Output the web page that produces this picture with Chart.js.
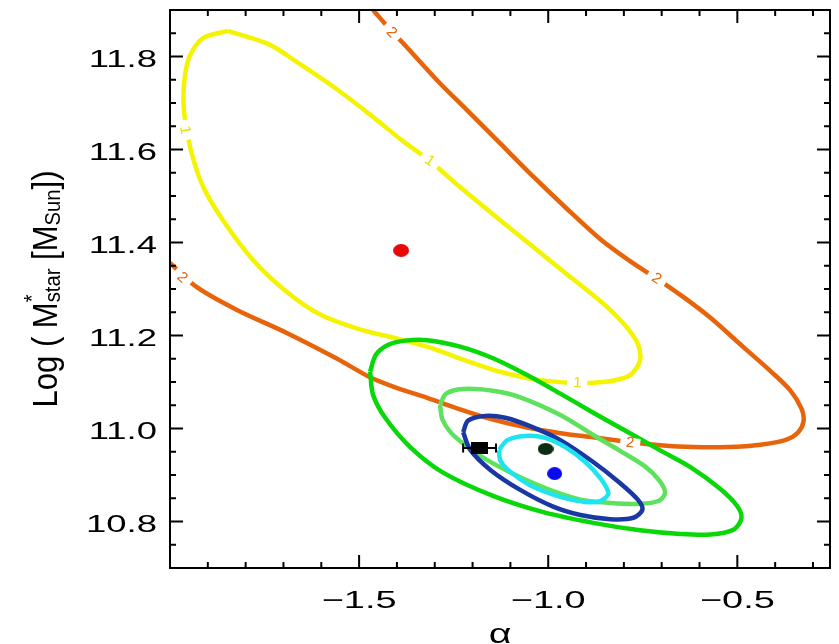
<!DOCTYPE html>
<html>
<head>
<meta charset="utf-8">
<script src="https://cdn.jsdelivr.net/npm/chart.js@4.4.1/dist/chart.umd.min.js"></script>
<style>
html, body { margin: 0; padding: 0; background: #fff; }
#wrap { position: relative; width: 839px; height: 644px; }
</style>
</head>
<body>
<div id="wrap"><canvas id="myChart"></canvas></div>
<script>
// contour points, [alpha, log Mstar]
var yellowContour = [[-1.847, 11.855], [-1.738, 11.826], [-1.659, 11.785], [-1.558, 11.729], [-1.471, 11.675],
    [-1.384, 11.618], [-1.312, 11.575], [-1.246, 11.528], [-1.127, 11.448], [-0.968, 11.343], [-0.836, 11.255],
    [-0.768, 11.190], [-0.757, 11.147], [-0.789, 11.112], [-0.889, 11.098], [-1.021, 11.104], [-1.127, 11.122],
    [-1.214, 11.145], [-1.312, 11.174], [-1.399, 11.193], [-1.505, 11.215], [-1.603, 11.245], [-1.690, 11.293],
    [-1.780, 11.362], [-1.860, 11.448], [-1.913, 11.521], [-1.945, 11.599], [-1.962, 11.674], [-1.963, 11.741],
    [-1.948, 11.801], [-1.912, 11.840]];
var orangeContour = [[-1.463, 11.900], [-1.413, 11.853], [-1.384, 11.829], [-1.294, 11.749], [-1.214, 11.684],
    [-1.127, 11.613], [-1.040, 11.542], [-0.950, 11.472], [-0.862, 11.407], [-0.775, 11.355], [-0.712, 11.322],
    [-0.643, 11.283], [-0.571, 11.238], [-0.484, 11.175], [-0.413, 11.124], [-0.360, 11.082], [-0.330, 11.042],
    [-0.325, 11.015], [-0.339, 10.992], [-0.370, 10.976], [-0.439, 10.965], [-0.526, 10.960], [-0.616, 10.960],
    [-0.704, 10.964], [-0.775, 10.970], [-0.881, 10.981], [-0.968, 10.990], [-1.056, 11.002], [-1.146, 11.019],
    [-1.233, 11.041], [-1.320, 11.066], [-1.410, 11.090], [-1.471, 11.110], [-1.558, 11.150], [-1.690, 11.205],
    [-1.823, 11.255], [-1.929, 11.304], [-2.000, 11.356]];
var greenContour = [[-1.471, 11.122], [-1.456, 11.158], [-1.423, 11.180], [-1.378, 11.189], [-1.320, 11.190],
    [-1.233, 11.176], [-1.146, 11.151], [-1.056, 11.115], [-0.968, 11.075], [-0.881, 11.034], [-0.791, 10.993],
    [-0.704, 10.953], [-0.624, 10.917], [-0.548, 10.872], [-0.502, 10.835], [-0.489, 10.808], [-0.509, 10.783],
    [-0.571, 10.772], [-0.650, 10.773], [-0.757, 10.781], [-0.881, 10.797], [-1.013, 10.820], [-1.146, 10.855],
    [-1.278, 10.905], [-1.365, 10.960], [-1.431, 11.023], [-1.463, 11.072]];
var lightGreenContour = [[-1.286, 11.051], [-1.270, 11.075], [-1.225, 11.085], [-1.146, 11.081], [-1.074, 11.067],
    [-0.968, 11.029], [-0.881, 10.986], [-0.810, 10.952], [-0.745, 10.919], [-0.706, 10.888], [-0.691, 10.861],
    [-0.709, 10.844], [-0.757, 10.838], [-0.836, 10.840], [-0.915, 10.847], [-1.029, 10.879], [-1.161, 10.932],
    [-1.246, 10.982], [-1.279, 11.018]];
var navyContour = [[-1.225, 10.992], [-1.212, 11.017], [-1.167, 11.027], [-1.114, 11.023], [-1.048, 11.005],
    [-0.968, 10.975], [-0.881, 10.928], [-0.812, 10.884], [-0.763, 10.847], [-0.751, 10.825], [-0.775, 10.808],
    [-0.836, 10.805], [-0.915, 10.814], [-0.987, 10.832], [-1.074, 10.868], [-1.153, 10.911], [-1.206, 10.954]];
var cyanContour = [[-1.130, 10.954], [-1.108, 10.975], [-1.061, 10.984], [-1.008, 10.980], [-0.955, 10.960],
    [-0.902, 10.928], [-0.863, 10.894], [-0.841, 10.861], [-0.862, 10.844], [-0.902, 10.842], [-0.968, 10.853],
    [-1.048, 10.878], [-1.106, 10.911], [-1.127, 10.932]];

// contour level labels
var yellowLabelAt = [[-1.958, 11.642], [-1.312, 11.577], [-0.923, 11.100]];
var orangeLabelAt = [[-1.413, 11.853], [-0.712, 11.324], [-0.783, 10.971], [-1.966, 11.326]];

// best-fit points
var redPoint = [-1.389, 11.383];
var darkPoint = [-1.007, 10.956];
var bluePoint = [-0.983, 10.903];
var squarePoint = [-1.181, 10.958];
var squareErr = [-1.225, -1.138];

// axes
var xMin = -2.0, xMax = -0.255, yMin = 10.7, yMax = 11.9;
var xTicks = [-1.5, -1.0, -0.5];
var xTickLabels = ['\u22121.5', '\u22121.0', '\u22120.5'];
var xMinorStep = 0.1;
var yTicks = [10.8, 11.0, 11.2, 11.4, 11.6, 11.8];
var yTickLabels = ['10.8', '11.0', '11.2', '11.4', '11.6', '11.8'];
var yMinorStep = 0.05;

function toPts(arr, closed) {
    var out = arr.map(function (p) { return { x: p[0], y: p[1] }; });
    if (closed) out.push({ x: arr[0][0], y: arr[0][1] });
    return out;
}

function marker(w, h, color, shape) {
    var c = document.createElement('canvas');
    c.width = w;
    c.height = h;
    var g = c.getContext('2d');
    g.fillStyle = color;
    if (shape === 'rect') {
        g.fillRect(0, 0, w, h);
    } else {
        g.beginPath();
        g.ellipse(w / 2, h / 2, w / 2, h / 2, 0, 0, Math.PI * 2);
        g.fill();
    }
    return c;
}

function contourSet(data, color) {
    return {
        data: data, showLine: true, borderColor: color, borderWidth: 4.5,
        pointRadius: 0, tension: 0.3, fill: false
    };
}

function pointSet(p, style) {
    return { data: [{ x: p[0], y: p[1] }], pointStyle: style, pointRadius: 8, showLine: false };
}

var FONT = '"Liberation Sans", Arial, sans-serif';

function drawLabels(chart, curve, closed, labels, text, color) {
    var xs = chart.scales.x, ys = chart.scales.y, ctx = chart.ctx;
    var pts = curve.slice();
    if (closed) pts.push(curve[0]);
    var pix = pts.map(function (p) { return [xs.getPixelForValue(p[0]), ys.getPixelForValue(p[1])]; });
    labels.forEach(function (l) {
        var px = xs.getPixelForValue(l[0]), py = ys.getPixelForValue(l[1]);
        var best = 1e12, ang = 0;
        for (var i = 0; i < pix.length - 1; i++) {
            var mx = (pix[i][0] + pix[i + 1][0]) / 2, my = (pix[i][1] + pix[i + 1][1]) / 2;
            var d = (mx - px) * (mx - px) + (my - py) * (my - py);
            if (d < best) {
                best = d;
                ang = Math.atan2(pix[i + 1][1] - pix[i][1], pix[i + 1][0] - pix[i][0]);
            }
        }
        if (ang > Math.PI / 2) ang -= Math.PI;
        if (ang < -Math.PI / 2) ang += Math.PI;
        ctx.save();
        ctx.translate(px, py);
        ctx.rotate(ang);
        ctx.fillStyle = '#fff';
        ctx.fillRect(-10, -4, 20, 8);
        ctx.fillStyle = color;
        ctx.font = '15px ' + FONT;
        ctx.textAlign = 'center';
        ctx.textBaseline = 'middle';
        ctx.fillText(text, 0, 1);
        ctx.restore();
    });
}

function stretchedText(ctx, text, x, y, sx, align) {
    ctx.save();
    ctx.translate(x, y);
    ctx.scale(sx, 1);
    ctx.textAlign = align;
    ctx.textBaseline = 'alphabetic';
    ctx.fillText(text, 0, 0);
    ctx.restore();
}

var axesPlugin = {
    id: 'axesPlugin',
    afterDatasetsDraw: function (chart) {
        drawLabels(chart, orangeContour, false, orangeLabelAt, '2', '#e0640c');
        drawLabels(chart, yellowContour, true, yellowLabelAt, '1', '#e6e000');
    },
    afterDraw: function (chart) {
        var ctx = chart.ctx, a = chart.chartArea;
        var xs = chart.scales.x, ys = chart.scales.y;
        ctx.save();
        ctx.strokeStyle = '#000';
        ctx.lineWidth = 2;
        ctx.strokeRect(a.left, a.top, a.right - a.left, a.bottom - a.top);
        ctx.beginPath();
        var k, v, p;
        for (k = Math.ceil(xMin / xMinorStep + 1e-6); k * xMinorStep < xMax - 1e-6; k++) {
            v = k * xMinorStep;
            p = xs.getPixelForValue(v);
            var len = xTicks.some(function (t) { return Math.abs(t - v) < 1e-6; }) ? 13 : 6;
            ctx.moveTo(p, a.bottom); ctx.lineTo(p, a.bottom - len);
            ctx.moveTo(p, a.top); ctx.lineTo(p, a.top + len);
        }
        for (k = Math.ceil(yMin / yMinorStep + 1e-6); k * yMinorStep < yMax - 1e-6; k++) {
            v = k * yMinorStep;
            p = ys.getPixelForValue(v);
            var ylen = yTicks.some(function (t) { return Math.abs(t - v) < 1e-6; }) ? 13 : 6;
            ctx.moveTo(a.left, p); ctx.lineTo(a.left + ylen, p);
            ctx.moveTo(a.right, p); ctx.lineTo(a.right - ylen, p);
        }
        ctx.stroke();

        ctx.fillStyle = '#000';
        ctx.font = '24px ' + FONT;
        xTicks.forEach(function (t, i) {
            stretchedText(ctx, xTickLabels[i], xs.getPixelForValue(t), a.bottom + 40, 1.58, 'center');
        });
        yTicks.forEach(function (t, i) {
            stretchedText(ctx, yTickLabels[i], a.left - 13, ys.getPixelForValue(t) + 10, 1.52, 'right');
        });

        // x title
        ctx.font = '28px ' + FONT;
        stretchedText(ctx, '\u03b1', (a.left + a.right) / 2, a.bottom + 75, 1.4, 'center');

        // y title with sub/superscripts
        var parts = [['Log ( ', 'n'], ['M', 'n'], ['*', 'sup'], ['star', 'sub'], [' [', 'n'],
            ['M', 'n'], ['Sun', 'sub'], [']', 'n'], [')', 'n']];
        var big = '23px ' + FONT, small = '15px ' + FONT;
        var total = 0;
        parts.forEach(function (q) {
            ctx.font = q[1] === 'n' ? big : small;
            if (q[1] !== 'sup') total += ctx.measureText(q[0]).width;
        });
        var sL = 237 / total, sC = 1.52;
        ctx.translate(a.left - 113, (a.top + a.bottom) / 2);
        ctx.rotate(-Math.PI / 2);
        ctx.scale(sL, sC);
        ctx.textAlign = 'left';
        ctx.textBaseline = 'alphabetic';
        var cx = -total / 2;
        parts.forEach(function (q) {
            ctx.font = q[1] === 'n' ? big : small;
            var dy = q[1] === 'sub' ? 2 : (q[1] === 'sup' ? -12 : 0);
            ctx.fillText(q[0], cx, dy);
            if (q[1] !== 'sup') cx += ctx.measureText(q[0]).width;
        });
        ctx.restore();
    }
};

var errBar = {
    data: [{ x: squareErr[0], y: squarePoint[1] }, { x: squareErr[1], y: squarePoint[1] }],
    showLine: true, borderColor: '#000', borderWidth: 2,
    pointStyle: 'line', rotation: 90, pointRadius: 4.5, pointBorderWidth: 2, pointBorderColor: '#000'
};

var myChart = new Chart(document.getElementById('myChart'), {
    type: 'scatter',
    data: {
        datasets: [
            pointSet(squarePoint, marker(17, 12, '#000', 'rect')),
            errBar,
            pointSet(darkPoint, marker(16, 12, '#0b2e12', 'dot')),
            pointSet(bluePoint, marker(15, 13, '#0a0af0', 'dot')),
            pointSet(redPoint, marker(16, 13, '#e80808', 'dot')),
            contourSet(toPts(cyanContour, true), '#1ee4ef'),
            contourSet(toPts(navyContour, true), '#1a38a4'),
            contourSet(toPts(lightGreenContour, true), '#5ee25e'),
            contourSet(toPts(greenContour, true), '#08d808'),
            contourSet(toPts(yellowContour, true), '#f4f400'),
            contourSet(toPts(orangeContour, false), '#e8640a')
        ]
    },
    options: {
        responsive: true,
        maintainAspectRatio: false,
        animation: false,
        events: [],
        layout: { padding: { left: 170, top: 10, right: 9, bottom: 76 } },
        scales: {
            x: { type: 'linear', min: xMin, max: xMax, display: false },
            y: { type: 'linear', min: yMin, max: yMax, display: false }
        },
        plugins: {
            legend: { display: false },
            tooltip: { enabled: false }
        }
    },
    plugins: [axesPlugin]
});
</script>
</body>
</html>
